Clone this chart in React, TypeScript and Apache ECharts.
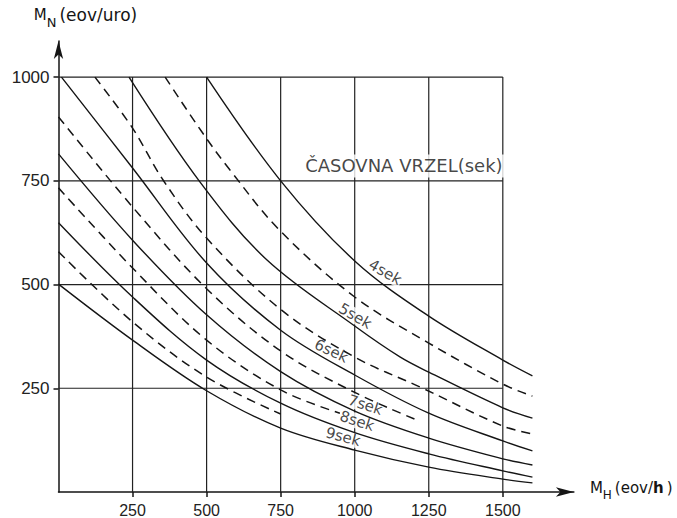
import React, { useEffect, useRef } from "react";
import * as echarts from "echarts";

// ---- data ----
const xTicks = [250, 500, 750, 1000, 1250, 1500];
const yTicks = [250, 500, 750, 1000];
const gridXMax = 1500;
const gridYMax = 1000;

// solid curves (time gap, sec)
const curve40 = [[500, 1000], [750, 750], [1000, 557], [1250, 424], [1500, 318], [1600, 280]];
const curve50 = [[238, 1000], [478, 747], [704, 559], [1000, 400], [1154, 325], [1250, 289], [1500, 203], [1600, 178]];
const curve60 = [[10, 1000], [250, 781], [500, 552], [750, 390], [1000, 282], [1250, 190], [1500, 123], [1600, 99]];
const curve70 = [[0, 815], [250, 607], [500, 427], [750, 290], [1000, 195], [1250, 130], [1500, 80], [1600, 65]];
const curve80 = [[0, 649], [250, 470], [500, 318], [750, 214], [1000, 143], [1250, 92], [1500, 51], [1600, 36]];
const curve90 = [[0, 501], [250, 366], [500, 244], [750, 154], [1000, 101], [1250, 60], [1500, 31], [1600, 22]];
// dashed (half-second) curves
const curve45 = [[360, 1000], [485, 867], [579, 776], [745, 632], [1000, 470], [1250, 359], [1500, 260], [1600, 231]];
const curve55 = [[123, 1000], [250, 877], [353, 752], [500, 612], [750, 440], [1000, 325], [1221, 253], [1500, 159], [1600, 140]];
const curve65 = [[0, 904], [250, 687], [500, 490], [750, 340], [1000, 240], [1205, 175]];
const curve75 = [[0, 733], [250, 540], [500, 366], [750, 246], [950, 190]];
const curve85 = [[0, 579], [250, 410], [500, 277], [750, 188]];

const solidCurves = [curve40, curve50, curve60, curve70, curve80, curve90];
const dashedCurves = [curve45, curve55, curve65, curve75, curve85];

const curveLabelNames = ["4sek", "5sek", "6sek", "7sek", "8sek", "9sek"];
const curveLabelAt = [[1103, 530], [1002, 424], [921, 340], [1036, 210], [1008, 171], [961, 133]];
const curveLabelAngle = [-30, -30, -25, -18, -18, -15];

const titleText = "ČASOVNA VRZEL(sek)";
const titleAt = [826, 786];

const FONT = "'DejaVu Sans', sans-serif";
const TICKFONT = "'Liberation Sans', Arial, sans-serif";
const INK = "#151515";

export default function App() {
  const ref = useRef<HTMLDivElement>(null);

  useEffect(() => {
    if (!ref.current) return;
    const chart = echarts.init(ref.current, null, { renderer: "svg" });

    const gridSeries: any[] = [];
    yTicks.forEach((v) =>
      gridSeries.push({
        type: "line",
        data: [[0, v], [gridXMax, v]],
        symbol: "none",
        silent: true,
        z: 1,
        lineStyle: { color: "#222", width: 1.2 },
      })
    );
    xTicks.forEach((v) =>
      gridSeries.push({
        type: "line",
        data: [[v, 0], [v, gridYMax]],
        symbol: "none",
        silent: true,
        z: 1,
        lineStyle: { color: "#222", width: 1.2 },
      })
    );

    const curveSeries: any[] = [
      ...solidCurves.map((d) => ({
        type: "line",
        data: d,
        smooth: 0.35,
        symbol: "none",
        silent: true,
        z: 3,
        lineStyle: { color: INK, width: 1.4, type: "solid" },
      })),
      ...dashedCurves.map((d) => ({
        type: "line",
        data: d,
        smooth: 0.35,
        symbol: "none",
        silent: true,
        z: 3,
        lineStyle: { color: INK, width: 1.5, type: [9, 6] },
      })),
    ];

    const labelSeries = {
      type: "scatter",
      symbolSize: 0,
      silent: true,
      z: 2,
      data: curveLabelNames.map((n, i) => ({
        value: curveLabelAt[i],
        label: { formatter: n, rotate: curveLabelAngle[i] },
      })),
      label: {
        show: true,
        position: "inside",
        fontFamily: FONT,
        fontSize: 15,
        color: INK,
        backgroundColor: "#fff",
        padding: [0, 1],
      },
    };

    const titleSeries = {
      type: "scatter",
      symbolSize: 0,
      silent: true,
      z: 2,
      data: [{ value: titleAt }],
      label: {
        show: true,
        position: "right",
        distance: 0,
        formatter: titleText,
        fontFamily: FONT,
        fontSize: 18,
        color: INK,
        backgroundColor: "#fff",
        padding: [3, 2, 2, 2],
      },
    };

    const plain = (v: number) => String(v);

    chart.setOption({
      animation: false,
      backgroundColor: "#fff",
      grid: { left: 58.5, top: 41, width: 515.4, height: 451, containLabel: false },
      xAxis: {
        type: "value",
        min: 0,
        max: 1740,
        interval: 250,
        splitLine: { show: false },
        axisLine: {
          show: true,
          symbol: ["none", "arrow"],
          symbolSize: [7, 18],
          lineStyle: { color: INK, width: 1.5 },
        },
        axisTick: { show: true, customValues: xTicks, length: 5, lineStyle: { color: INK, width: 1.5 } },
        axisLabel: { customValues: xTicks, formatter: plain, fontFamily: TICKFONT, fontSize: 16, color: "#222", margin: 10 },
        name: "{m|M}{s|H}{t|(eov/}{b|h}{t|)}",
        nameLocation: "end",
        nameGap: 16,
        nameTextStyle: {
          padding: [0, 0, 8, 0],
          rich: {
            m: { fontFamily: FONT, fontSize: 15, color: INK, lineHeight: 18 },
            s: { fontFamily: FONT, fontSize: 12, color: INK, lineHeight: 26, verticalAlign: "bottom" },
            t: { fontFamily: FONT, fontSize: 15, color: INK, lineHeight: 18, padding: [0, 0, 0, 3] },
            b: { fontFamily: FONT, fontSize: 15, fontWeight: "bold", color: INK, lineHeight: 18 },
          },
        },
      },
      yAxis: {
        type: "value",
        min: 0,
        max: 1087,
        interval: 250,
        splitLine: { show: false },
        axisLine: {
          show: true,
          symbol: ["none", "arrow"],
          symbolSize: [7, 18],
          lineStyle: { color: INK, width: 1.5 },
        },
        axisTick: { show: true, customValues: yTicks, length: 5, lineStyle: { color: INK, width: 1.5 } },
        axisLabel: { customValues: yTicks, formatter: plain, fontFamily: TICKFONT, fontSize: 17, color: "#222", margin: 9 },
        name: "{m|M}{s|N}{t|(eov/uro)}",
        nameLocation: "end",
        nameGap: 12,
        nameTextStyle: {
          padding: [0, 0, 0, 54],
          rich: {
            m: { fontFamily: FONT, fontSize: 15, color: INK, lineHeight: 18 },
            s: { fontFamily: FONT, fontSize: 13, color: INK, lineHeight: 28, verticalAlign: "bottom" },
            t: { fontFamily: FONT, fontSize: 17, color: INK, lineHeight: 18, padding: [0, 0, 0, 3] },
          },
        },
      },
      series: [...gridSeries, labelSeries, titleSeries, ...curveSeries],
    });

    return () => chart.dispose();
  }, []);

  return (
    <div
      ref={ref}
      style={{ position: "fixed", left: 0, top: 0, width: 677, height: 518, background: "#fff" }}
    />
  );
}
